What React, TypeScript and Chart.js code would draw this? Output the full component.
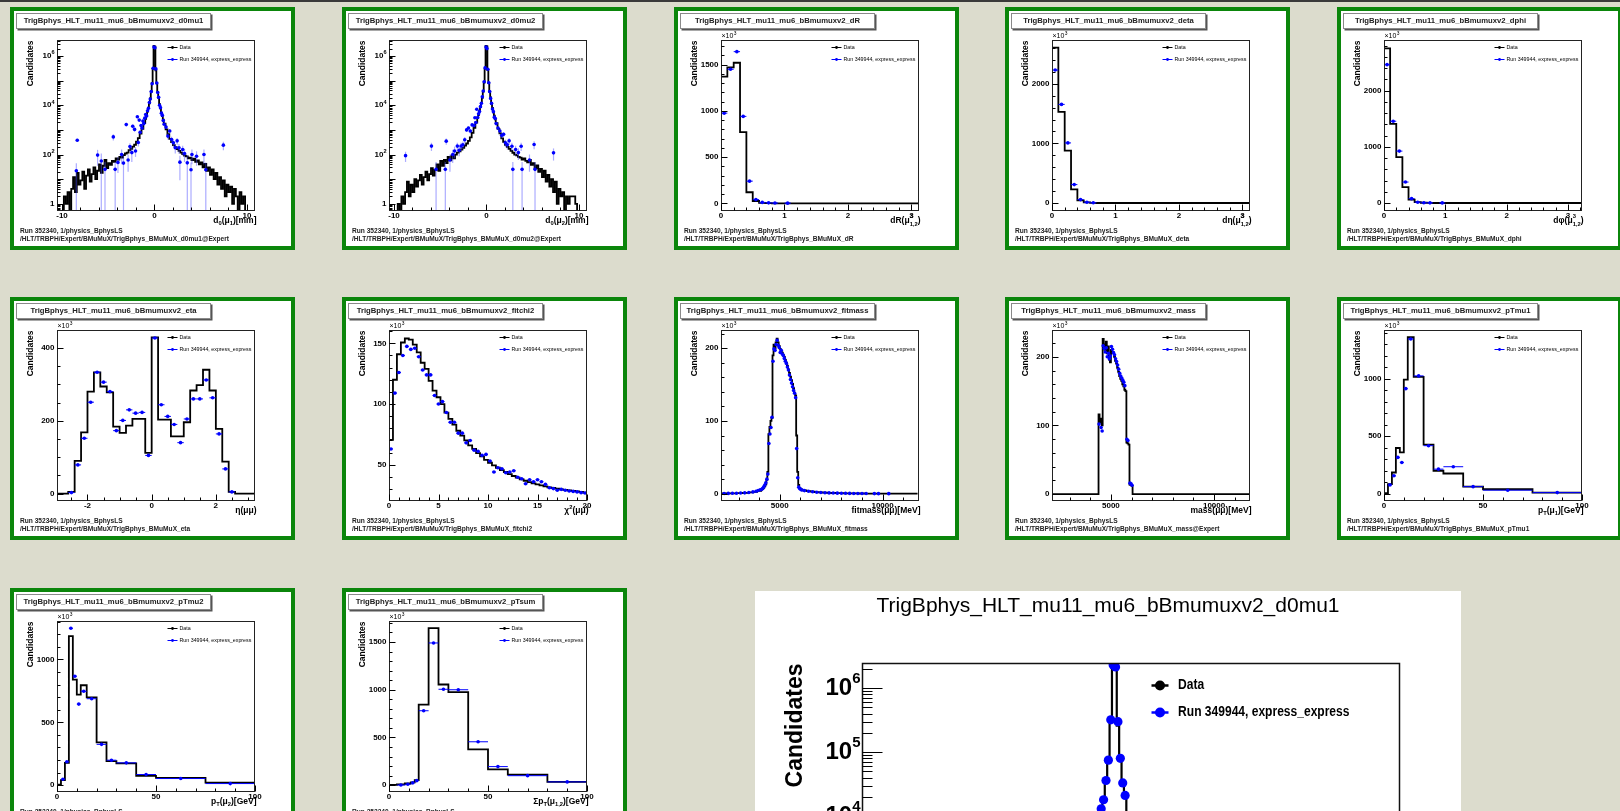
import React, { useEffect, useRef } from "react";
import { Chart, registerables } from "chart.js";

Chart.register(...registerables);

const FONT = '"Liberation Sans", Arial, Helvetica, sans-serif';
const PAGE_BG = "#dcdccd";
const PANEL_GREEN = "#0b860b";
const DOT_BLUE = "#0000ff";

// ---------------- texts ----------------
const TITLE_PREFIX = "TrigBphys_HLT_mu11_mu6_bBmumuxv2_";
const RUN_LINE = "Run 352340, 1/physics_BphysLS";
const PATH_PREFIX = "/HLT/TRBPH/Expert/BMuMuX/TrigBphys_BMuMuX_";
const LEGEND_LABELS = ["Data", "Run 349944, express_express"];
const Y_TITLE = "Candidates";

// ---------------- bin helpers (bin geometry only) ----------------
function uniformEdges(lo: number, hi: number, step: number): number[] {
  const n = Math.round((hi - lo) / step);
  const out: number[] = [];
  for (let i = 0; i <= n; i++) out.push(Math.round((lo + i * step) * 1e6) / 1e6);
  return out;
}
function binCenters(edges: number[]): number[] {
  const out: number[] = [];
  for (let i = 0; i < edges.length - 1; i++) out.push((edges[i] + edges[i + 1]) / 2);
  return out;
}

// ---------------- d0 (log) ----------------
const d0Edges = [
  ...uniformEdges(-10, -1, 0.2),
  ...uniformEdges(-1, 1, 0.1).slice(1),
  ...uniformEdges(1, 10, 0.2).slice(1),
];
const d0mu1LeftTail = [0, 2, 1, 3, 0, 4, 12, 3, 18, 6, 9, 20, 4, 14, 25, 8, 16, 30, 10, 22, 40, 18, 35, 60, 28, 45, 38, 55, 50, 70, 62, 80, 75, 95, 110, 120, 150, 170, 210, 250, 330, 460, 700, 1100, 1900];
const d0mu1Core = [2800, 3900, 5500, 8000, 12000, 19000, 35000, 80000, 300000, 2600000, 2400000, 260000, 78000, 34000, 20000, 11000, 7500, 5000, 3600, 2600];
const d0mu1RightTail = [1800, 1050, 680, 430, 320, 240, 200, 165, 140, 120, 105, 90, 85, 70, 75, 60, 68, 50, 58, 40, 48, 30, 42, 22, 30, 15, 25, 10, 18, 6, 12, 4, 9, 2, 6, 3, 5, 1, 4, 2, 0, 3, 1, 2, 0];
const d0mu1PtsX = [-8.45, -8.35, -6.15, -5.75, -5.35, -4.45, -4.25, -3.95, -3.55, -3.35, -3.05, -2.85, -2.65, -2.45, -2.35, -2.15, -2.05, -1.85, -1.75, -1.65, -1.55, -1.45, -1.35, -1.25, -1.15, -1.05, -0.95, -0.85, -0.75, -0.65, -0.55, -0.45, -0.35, -0.25, -0.15, -0.05, 0.05, 0.15, 0.25, 0.35, 0.45, 0.55, 0.65, 0.75, 0.85, 0.95, 1.05, 1.25, 1.45, 1.65, 1.85, 2.05, 2.25, 2.45, 2.65, 2.75, 3.05, 3.25, 3.55, 3.95, 4.05, 4.55, 5.35, 5.55, 7.45];
const d0mu1PtsY = [22, 380, 95, 55, 25, 520, 25, 48, 100, 45, 1650, 60, 210, 120, 1400, 1050, 140, 3400, 310, 2500, 800, 1500, 1200, 2300, 1800, 3000, 4200, 3700, 6000, 7500, 13000, 18000, 36000, 75000, 320000, 2300000, 2150000, 300000, 80000, 33000, 21000, 10000, 8000, 4800, 3900, 2400, 1700, 1300, 560, 900, 410, 300, 190, 360, 187, 49, 160, 110, 46, 24, 100, 85, 100, 24, 240];
const d0mu1PtsErr = [22, 60, 60, 55, 25, 150, 25, 30, 60, 45, 300, 40, 80, 70, 250, 200, 60, 400, 100, 300, 150, 250, 200, 300, 300, 300, 400, 400, 500, 500, 700, 800, 1000, 2000, 3000, 9000, 9000, 3000, 2000, 1000, 800, 600, 500, 400, 400, 300, 250, 220, 150, 180, 120, 100, 80, 110, 80, 40, 70, 60, 46, 24, 60, 50, 60, 24, 90];

const d0mu2LeftTail = [0, 0, 1, 0, 2, 1, 3, 8, 2, 6, 3, 10, 5, 9, 15, 6, 12, 20, 9, 16, 28, 14, 24, 40, 22, 55, 35, 60, 45, 80, 58, 90, 70, 100, 120, 135, 160, 185, 230, 280, 360, 500, 760, 1200, 2000];
const d0mu2Core = [3000, 4100, 5800, 8400, 12500, 20000, 36000, 84000, 310000, 2600000, 2450000, 270000, 80000, 35000, 21000, 11500, 7800, 5200, 3800, 2700];
const d0mu2RightTail = [1900, 1100, 720, 450, 330, 250, 205, 170, 140, 118, 100, 92, 80, 75, 62, 70, 55, 48, 60, 38, 45, 28, 36, 20, 26, 12, 22, 8, 15, 5, 10, 3, 8, 1, 4, 2, 3, 0, 2, 1, 2, 2, 2, 1, 0];
const d0mu2PtsX = [-8.75, -5.95, -5.45, -4.45, -4.35, -3.95, -3.65, -3.45, -3.15, -2.95, -2.75, -2.55, -2.35, -2.15, -1.95, -1.75, -1.55, -1.35, -1.25, -1.15, -1.05, -0.95, -0.85, -0.75, -0.65, -0.55, -0.45, -0.35, -0.25, -0.15, -0.05, 0.05, 0.15, 0.25, 0.35, 0.45, 0.55, 0.65, 0.75, 0.85, 0.95, 1.05, 1.25, 1.45, 1.65, 1.85, 2.05, 2.25, 2.45, 2.75, 2.85, 3.15, 3.45, 3.75, 3.85, 4.65, 5.15, 5.25, 7.25];
const d0mu2PtsY = [90, 220, 25, 25, 350, 60, 100, 140, 220, 150, 220, 250, 400, 1000, 1200, 900, 1600, 1500, 3100, 2000, 6900, 3200, 4500, 5600, 8800, 12000, 22000, 38000, 90000, 330000, 2300000, 2000000, 290000, 82000, 36000, 19000, 12000, 7000, 5500, 3300, 2900, 1800, 1200, 900, 600, 660, 300, 250, 360, 218, 25, 160, 120, 218, 25, 60, 255, 25, 117];
const d0mu2PtsErr = [40, 80, 25, 25, 100, 40, 55, 70, 80, 65, 80, 85, 110, 180, 200, 180, 240, 230, 320, 250, 500, 300, 400, 450, 550, 650, 900, 1200, 2000, 3000, 9000, 9000, 3000, 2000, 1200, 800, 650, 500, 450, 350, 320, 250, 200, 180, 150, 150, 100, 90, 110, 80, 25, 70, 60, 80, 25, 40, 90, 25, 60];

// ---------------- angular (x10^3) ----------------
const dREdges = uniformEdges(0, 3.2, 0.1);
const dRValues = [1370, 1470, 1520, 770, 120, 25, 5, 1.5, 0.5, 0.3, 0.2, 0.1, 0, 0, 0, 0, 0, 0, 0, 0, 0, 0, 0, 0, 0, 0, 0, 0, 0, 0, 0, 0];
const dRPtsX = [0.05, 0.15, 0.25, 0.35, 0.45, 0.55, 0.65, 0.75, 0.85, 1.05];
const dRPtsY = [975, 1450, 1640, 940, 240, 40, 10, 5, 3, 2];

const detaEdges = uniformEdges(0, 3.2, 0.1);
const detaValues = [2605, 1530, 877, 230, 45, 10, 2, 0.5, 0.2, 0, 0, 0, 0, 0, 0, 0, 0, 0, 0, 0, 0, 0, 0, 0, 0, 0, 0, 0, 0, 0, 0, 0];
const detaPtsX = [0.05, 0.15, 0.25, 0.35, 0.45, 0.55, 0.65];
const detaPtsY = [2230, 1654, 1008, 309, 57, 12, 5];

const dphiEdges = uniformEdges(0, 3.3, 0.1);
const dphiValues = [2753, 1410, 817, 284, 60, 15, 5, 1, 0.5, 0, 0, 0, 0, 0, 0, 0, 0, 0, 0, 0, 0, 0, 0, 0, 0, 0, 0, 0, 0, 0, 0, 0, 0];
const dphiPtsX = [0.05, 0.15, 0.25, 0.35, 0.45, 0.55, 0.65, 0.75, 0.95];
const dphiPtsY = [2463, 1456, 924, 373, 78, 15, 5, 3, 2];

// ---------------- eta ----------------
const etaEdges = uniformEdges(-3.0, 3.2, 0.2);
const etaValues = [0, 0, 5, 90, 168, 280, 333, 294, 278, 184, 167, 187, 205, 205, 112, 429, 203, 203, 157, 157, 196, 283, 298, 340, 283, 178, 88, 5, 0, 0, 0];
const etaPtsX = binCenters(etaEdges).slice(2, 28);
const etaPtsY = [3, 79, 152, 251, 333, 306, 280, 173, 201, 230, 221, 223, 105, 427, 244, 212, 190, 140, 205, 260, 260, 312, 263, 164, 68, 5];

// ---------------- fitchi2 ----------------
const chi2Edges = uniformEdges(0, 20, 0.4);
const chi2Values = [70.5, 120, 141, 150.7, 154, 153, 149, 142.5, 134, 129, 119, 111, 105.6, 100, 93, 87.8, 83, 78, 74, 70, 65.9, 63, 59.6, 56.8, 54, 51.6, 49.4, 47.5, 45.6, 44, 42.3, 40.7, 39.3, 37.9, 36.8, 35.7, 34.6, 33.8, 33, 32.2, 31.3, 30.8, 30.3, 29.7, 29.2, 28.9, 28.4, 28.1, 27.6, 27];
const chi2PtsX = binCenters(chi2Edges);
const chi2PtsY = [63, 109, 126, 140, 147.5, 145, 146, 139, 128, 124, 124, 107, 100, 102, 93, 85, 85, 76, 76, 68, 70, 62, 61, 57.7, 58.5, 53, 44, 47.5, 46.6, 43.4, 44, 45, 39.7, 38.4, 34.3, 37.6, 36, 37.6, 36, 33.8, 31, 30.3, 29, 29.7, 29, 28.4, 28, 27.6, 27, 26.7];

// ---------------- fitmass ----------------
const fitmassEdges = [
  ...uniformEdges(2100, 4100, 200),
  ...uniformEdges(4100, 6100, 50).slice(1),
  ...uniformEdges(6100, 11700, 200).slice(1),
];
const fitmassLow = [0.3, 0.4, 0.5, 0.6, 0.8, 1.0, 1.3, 1.8, 2.6, 3.8];
const fitmassPeak = [5.5, 6.5, 8, 10, 13, 19, 30, 82, 92, 100, 104, 190, 205, 200, 208, 213, 208, 203, 199, 196, 194, 191, 188, 184, 180, 176, 171, 166, 161, 156, 151, 145, 139, 135, 80, 30, 12, 8, 6.5, 5.5];
const fitmassHigh = [4.5, 3.5, 2.8, 2.2, 1.8, 1.5, 1.2, 1.0, 0.8, 0.7, 0.6, 0.5, 0.4, 0.35, 0.3, 0.25, 0.2, 0.15, 0.12, 0.1, 0.08, 0.06, 0.05, 0.04, 0.03, 0.02, 0.01, 0.005];
const fitmassPtsX = [2300, 2500, 2700, 2900, 3100, 3300, 3500, 3700, 3850, 3950, 4050, 4125, 4175, 4225, 4275, 4325, 4375, 4425, 4475, 4525, 4575, 4625, 4675, 4725, 4775, 4825, 4875, 4925, 4975, 5025, 5075, 5125, 5175, 5225, 5275, 5325, 5375, 5425, 5475, 5525, 5575, 5625, 5675, 5725, 5775, 5825, 5875, 5925, 5975, 6025, 6075, 6200, 6400, 6600, 6800, 7000, 7200, 7400, 7600, 7800, 8000, 8200, 8400, 8600, 8800, 9000, 9200, 9600, 9800, 10300];
const fitmassPtsY = [0.3, 0.45, 0.55, 0.7, 0.9, 1.2, 1.7, 2.5, 3.5, 4.5, 5.5, 6, 7.5, 9.5, 12, 15, 20, 27, 69, 82, 91, 105, 182, 199, 197, 205, 211, 204, 201, 194, 197, 192, 190, 186, 182, 179, 174, 170, 163, 157, 152, 147, 142, 138, 132, 62, 22, 9, 7, 6, 5.2, 4.3, 3.3, 2.7, 2.1, 1.7, 1.4, 1.1, 0.9, 0.8, 0.65, 0.55, 0.45, 0.4, 0.32, 0.28, 0.22, 0.15, 0.13, 0.07];

// ---------------- mass ----------------
const massEdges = [2100, ...uniformEdges(4400, 6050, 50), 11750];
const massPeak = [116, 104, 110, 100, 226, 218, 210, 222, 205, 215, 196, 192, 210, 205, 206, 200, 194, 190, 184, 178, 172, 168, 165, 160, 157, 152, 150, 75, 74, 72, 14, 13, 12];
const massPtsX = [4425, 4525, 4575, 4625, 4675, 4725, 4775, 4825, 4875, 4925, 4975, 5025, 5075, 5125, 5175, 5225, 5275, 5325, 5375, 5425, 5475, 5525, 5575, 5625, 5675, 5775, 5825, 5925, 5975, 6025];
const massPtsY = [102, 97, 92, 216, 212, 207, 213, 200, 205, 197, 201, 215, 211, 206, 203, 197, 193, 188, 182, 176, 172, 169, 166, 163, 158, 80, 78, 16, 15, 13];

// ---------------- pT ----------------
const ptEdges = [0, 2, 4, 6, 8, 10, 12, 15, 20, 25, 30, 40, 50, 75, 100];
const ptPtsX = [3, 5, 7, 9, 11, 13.5, 17.5, 22.5, 27.5, 35, 45, 62.5, 87.5];
const ptPtsXErr = [1, 1, 1, 1, 1, 1.5, 2.5, 2.5, 2.5, 5, 5, 12.5, 12.5];
const pTmu1Values = [5, 82, 184, 397, 359, 992, 1360, 1015, 426, 199, 175, 61, 38, 9];
const pTmu1PtsY = [76, 155, 315, 271, 913, 1345, 1024, 417, 213, 234, 61, 30, 9];
const pTmu2Values = [5, 40, 178, 1186, 840, 720, 795, 698, 341, 192, 173, 74, 58, 21];
const pTmu2PtsY = [47, 186, 1248, 867, 645, 747, 688, 325, 199, 178, 85, 53, 13];
const pTsumEdges = [0, 4, 8, 11, 13, 15, 20, 25, 30, 40, 50, 60, 80, 100];
const pTsumValues = [3, 8, 18, 30, 54, 845, 1645, 1055, 975, 375, 165, 110, 35];
const pTsumPtsX = [6, 9.5, 12, 14, 17.5, 22.5, 27.5, 35, 45, 55, 70, 90];
const pTsumPtsXErr = [2, 1.5, 1, 1, 2.5, 2.5, 2.5, 5, 5, 5, 10, 10];
const pTsumPtsY = [2, 10, 25, 48, 780, 1490, 1005, 1000, 455, 195, 100, 35];

// ---------------- axis titles (segments: 0 normal, 1 sub, 2 sup, 3 sup|sub stacked) ----------------
type Seg = [string, number?];
const T_D0MU1: Seg[] = [["d"], ["0", 1], ["(\u03bc"], ["1", 1], [")[mm]"]];
const T_D0MU2: Seg[] = [["d"], ["0", 1], ["(\u03bc"], ["2", 1], [")[mm]"]];
const T_DR: Seg[] = [["dR(\u03bc"], ["3|1,2", 3], [")"]];
const T_DETA: Seg[] = [["d\u03b7(\u03bc"], ["3|1,2", 3], [")"]];
const T_DPHI: Seg[] = [["d\u03c6(\u03bc"], ["3|1,2", 3], [")"]];
const T_ETA: Seg[] = [["\u03b7(\u03bc\u03bc)"]];
const T_CHI2: Seg[] = [["\u03c7"], ["2", 2], ["(\u03bc\u03bc)"]];
const T_FITMASS: Seg[] = [["fitmass(\u03bc\u03bc)[MeV]"]];
const T_MASS: Seg[] = [["mass(\u03bc\u03bc)[MeV]"]];
const T_PTMU1: Seg[] = [["p"], ["T", 1], ["(\u03bc"], ["1", 1], [")[GeV]"]];
const T_PTMU2: Seg[] = [["p"], ["T", 1], ["(\u03bc"], ["2", 1], [")[GeV]"]];
const T_PTSUM: Seg[] = [["\u03a3p"], ["T", 1], ["(\u03bc"], ["1,2", 1], [")[GeV]"]];

interface Cfg {
  key: string; footer: string; col: number; row: number;
  edges: number[]; values: number[];
  px: number[]; py: number[]; pxe?: number[]; pye?: number[];
  xMin: number; xMax: number; yMin: number; yMax: number; log: boolean;
  xLabels: number[]; xMajor: number; xMinor: number;
  yLabels: number[]; yMajor: number; yMinor: number;
  times: boolean; xTitle: Seg[];
}

const fill = (n: number, v: number) => new Array(n).fill(v);

const D0X = { xMin: -10.54, xMax: 10.87, xLabels: [-10, 0, 10], xMajor: 10, xMinor: 2 };
const ANG_X = { xLabels: [0, 1, 2, 3], xMajor: 1, xMinor: 0.2 };
const MASS_X = { xLabels: [5000, 10000], xMajor: 5000, xMinor: 1000 };
const PT_X = { xMin: 0, xMax: 100, xLabels: [0, 50, 100], xMajor: 50, xMinor: 10 };

const PANELS: Cfg[] = [
  { key: "d0mu1", footer: "d0mu1@Expert", col: 0, row: 0, edges: d0Edges, values: [...d0mu1LeftTail, ...d0mu1Core, ...d0mu1RightTail],
    px: d0mu1PtsX, py: d0mu1PtsY, pye: d0mu1PtsErr, ...D0X, yMin: 0.51, yMax: 4.47e6, log: true,
    yLabels: [1, 1e2, 1e4, 1e6], yMajor: 1, yMinor: 1, times: false, xTitle: T_D0MU1 },
  { key: "d0mu2", footer: "d0mu2@Expert", col: 1, row: 0, edges: d0Edges, values: [...d0mu2LeftTail, ...d0mu2Core, ...d0mu2RightTail],
    px: d0mu2PtsX, py: d0mu2PtsY, pye: d0mu2PtsErr, ...D0X, yMin: 0.51, yMax: 4.47e6, log: true,
    yLabels: [1, 1e2, 1e4, 1e6], yMajor: 1, yMinor: 1, times: false, xTitle: T_D0MU2 },
  { key: "dR", footer: "dR", col: 2, row: 0, edges: dREdges, values: dRValues, px: dRPtsX, py: dRPtsY, pxe: fill(10, 0.05),
    xMin: 0, xMax: 3.12, ...ANG_X, yMin: -83, yMax: 1766, log: false, yLabels: [0, 500, 1000, 1500], yMajor: 500, yMinor: 100, times: true, xTitle: T_DR },
  { key: "deta", footer: "deta", col: 3, row: 0, edges: detaEdges, values: detaValues, px: detaPtsX, py: detaPtsY, pxe: fill(7, 0.05),
    xMin: 0, xMax: 3.12, ...ANG_X, yMin: -134, yMax: 2734, log: false, yLabels: [0, 1000, 2000], yMajor: 1000, yMinor: 200, times: true, xTitle: T_DETA },
  { key: "dphi", footer: "dphi", col: 4, row: 0, edges: dphiEdges, values: dphiValues, px: dphiPtsX, py: dphiPtsY, pxe: fill(9, 0.05),
    xMin: 0, xMax: 3.23, ...ANG_X, yMin: -142, yMax: 2902, log: false, yLabels: [0, 1000, 2000], yMajor: 1000, yMinor: 200, times: true, xTitle: T_DPHI },
  { key: "eta", footer: "eta", col: 0, row: 1, edges: etaEdges, values: etaValues, px: etaPtsX, py: etaPtsY, pxe: fill(26, 0.1),
    xMin: -2.95, xMax: 3.22, xLabels: [-2, 0, 2], xMajor: 2, xMinor: 0.5, yMin: -20, yMax: 449, log: false, yLabels: [0, 200, 400], yMajor: 200, yMinor: 50, times: true, xTitle: T_ETA },
  { key: "fitchi2", footer: "fitchi2", col: 1, row: 1, edges: chi2Edges, values: chi2Values, px: chi2PtsX, py: chi2PtsY, pxe: fill(50, 0.2),
    xMin: 0, xMax: 20, xLabels: [0, 5, 10, 15, 20], xMajor: 5, xMinor: 1, yMin: 20.1, yMax: 161, log: false, yLabels: [50, 100, 150], yMajor: 50, yMinor: 10, times: true, xTitle: T_CHI2 },
  { key: "fitmass", footer: "fitmass", col: 2, row: 1, edges: fitmassEdges, values: [...fitmassLow, ...fitmassPeak, ...fitmassHigh], px: fitmassPtsX, py: fitmassPtsY,
    xMin: 2147, xMax: 11770, ...MASS_X, yMin: -10, yMax: 225, log: false, yLabels: [0, 100, 200], yMajor: 100, yMinor: 20, times: true, xTitle: T_FITMASS },
  { key: "mass", footer: "mass@Expert", col: 3, row: 1, edges: massEdges, values: [0, ...massPeak, 0], px: massPtsX, py: massPtsY,
    xMin: 2144, xMax: 11742, ...MASS_X, yMin: -10, yMax: 239, log: false, yLabels: [0, 100, 200], yMajor: 100, yMinor: 20, times: true, xTitle: T_MASS },
  { key: "pTmu1", footer: "pTmu1", col: 4, row: 1, edges: ptEdges, values: pTmu1Values, px: ptPtsX, py: pTmu1PtsY, pxe: ptPtsXErr,
    ...PT_X, yMin: -64, yMax: 1423, log: false, yLabels: [0, 500, 1000], yMajor: 500, yMinor: 100, times: true, xTitle: T_PTMU1 },
  { key: "pTmu2", footer: "pTmu2", col: 0, row: 2, edges: ptEdges, values: pTmu2Values, px: ptPtsX, py: pTmu2PtsY, pxe: ptPtsXErr,
    ...PT_X, yMin: -54, yMax: 1306, log: false, yLabels: [0, 500, 1000], yMajor: 500, yMinor: 100, times: true, xTitle: T_PTMU2 },
  { key: "pTsum", footer: "pTsum", col: 1, row: 2, edges: pTsumEdges, values: pTsumValues, px: pTsumPtsX, py: pTsumPtsY, pxe: pTsumPtsXErr,
    ...PT_X, yMin: -71, yMax: 1720, log: false, yLabels: [0, 500, 1000, 1500], yMajor: 500, yMinor: 100, times: true, xTitle: T_PTSUM },
];

const BIG_CFG: Cfg = { ...PANELS[0], xMin: -10.54, xMax: 11.93, yMin: 0.5, yMax: 2.48e6, yLabels: [1, 10, 1e2, 1e3, 1e4, 1e5, 1e6] };

const COL_X = [10, 342, 674, 1005, 1337];
const ROW_Y = [7, 297, 588];

// ---------------- styles ----------------
const SMALL = {
  w: 277, h: 235,
  pad: { left: 43, top: 29, right: 36, bottom: 35 },
  lineW: 1.8, dotR: 1.8,
  xErrColor: "#0000ff", xErrW: 1, yErrColor: "rgba(70,70,255,0.45)", yErrW: 1.2,
  frameColor: "#222", frameW: 1, majLen: 6, minLen: 3,
  tickPx: 8, supPx: 5.6, supRise: 3.2, yLabelGap: 3, xLabelDy: 5.5,
  titlePx: 8.5, xTitleDy: 10.5, xTitleDxR: 2, yTitleDx: 26.5,
  timesPx: 7, timesDy: 4,
  legendPx: 5.3, legendBold: false, legendScale: 1,
  lgX0: 110, lgX1: 120, lgTx: 122, lgY1: 7, lgY2: 19, lgDotR: 1.4, lgLineW: 1,
};
const BIG = {
  w: 706, h: 560,
  pad: { left: 107, top: 72, right: 61, bottom: 60 },
  lineW: 2.2, dotR: 4.6,
  xErrColor: "#0000ff", xErrW: 1.5, yErrColor: "rgba(70,70,255,0.45)", yErrW: 2,
  frameColor: "#111", frameW: 1.5, majLen: 20, minLen: 10,
  tickPx: 24, supPx: 15, supRise: 9, yLabelGap: 2, xLabelDy: 16,
  titlePx: 23, xTitleDy: 40, xTitleDxR: 0, yTitleDx: 67,
  timesPx: 16, timesDy: 8,
  legendPx: 14, legendBold: true, legendScale: 0.86,
  lgX0: 289, lgX1: 306, lgTx: 315.6, lgY1: 22, lgY2: 49, lgDotR: 5, lgLineW: 2.5,
};

const fnt = (px: number, bold: boolean) => `${bold ? "bold " : ""}${px}px ${FONT}`;

function richWidth(ctx: any, segs: Seg[], px: number, bold: boolean) {
  const big = fnt(px, bold), sm = fnt(+(px * 0.68).toFixed(2), bold);
  let w = 0;
  for (const [t, k] of segs) {
    if (!k) { ctx.font = big; w += ctx.measureText(t).width; }
    else if (k === 3) { const [a, b] = t.split("|"); ctx.font = sm; w += Math.max(ctx.measureText(a).width, ctx.measureText(b).width); }
    else { ctx.font = sm; w += ctx.measureText(t).width; }
  }
  return w;
}
function drawRich(ctx: any, segs: Seg[], x0: number, y: number, px: number, bold: boolean) {
  const big = fnt(px, bold), sm = fnt(+(px * 0.68).toFixed(2), bold);
  let x = x0;
  ctx.textAlign = "left"; ctx.textBaseline = "middle";
  for (const [t, k] of segs) {
    if (!k) { ctx.font = big; ctx.fillText(t, x, y); x += ctx.measureText(t).width; }
    else if (k === 1) { ctx.font = sm; ctx.fillText(t, x, y + px * 0.32); x += ctx.measureText(t).width; }
    else if (k === 2) { ctx.font = sm; ctx.fillText(t, x, y - px * 0.4); x += ctx.measureText(t).width; }
    else {
      const [a, b] = t.split("|"); ctx.font = sm;
      ctx.fillText(a, x, y - px * 0.5); ctx.fillText(b, x, y + px * 0.38);
      x += Math.max(ctx.measureText(a).width, ctx.measureText(b).width);
    }
  }
}

function tickValues(min: number, max: number, step: number) {
  const out: number[] = [];
  const start = Math.ceil(min / step - 1e-9);
  for (let i = start; i * step <= max + 1e-9; i++) out.push(Math.round(i * step * 1e6) / 1e6);
  return out;
}
const isMult = (v: number, s: number) => Math.abs(v / s - Math.round(v / s)) < 1e-6;

function makePlugin(cfg: Cfg, st: any) {
  return {
    id: "rootFrame",
    beforeDatasetDraw(chart: any, args: any) {
      if (args.index !== 1) return;
      const { ctx, chartArea: a } = chart;
      const xs = chart.scales.x, ys = chart.scales.y;
      ctx.save();
      ctx.beginPath(); ctx.rect(a.left, a.top, a.right - a.left, a.bottom - a.top); ctx.clip();
      for (let i = 0; i < cfg.px.length; i++) {
        const cx = xs.getPixelForValue(cfg.px[i]);
        const cy = ys.getPixelForValue(cfg.py[i]);
        const xe = cfg.pxe ? cfg.pxe[i] : 0;
        if (xe) {
          ctx.strokeStyle = st.xErrColor; ctx.lineWidth = st.xErrW;
          ctx.beginPath();
          ctx.moveTo(xs.getPixelForValue(cfg.px[i] - xe), cy);
          ctx.lineTo(xs.getPixelForValue(cfg.px[i] + xe), cy);
          ctx.stroke();
        }
        const ye = cfg.pye ? cfg.pye[i] : 0;
        if (ye) {
          const lo = cfg.py[i] - ye;
          const y0 = lo > 0 ? ys.getPixelForValue(lo) : a.bottom;
          const y1 = ys.getPixelForValue(cfg.py[i] + ye);
          ctx.strokeStyle = st.yErrColor; ctx.lineWidth = st.yErrW;
          ctx.beginPath(); ctx.moveTo(cx, y0); ctx.lineTo(cx, y1); ctx.stroke();
        }
      }
      ctx.restore();
    },
    afterDraw(chart: any) {
      const { ctx, chartArea: a } = chart;
      const xs = chart.scales.x, ys = chart.scales.y;
      const L = Math.round(a.left) + 0.5, R = Math.round(a.right) - 0.5;
      const T = Math.round(a.top) + 0.5, B = Math.round(a.bottom) - 0.5;
      ctx.save();
      ctx.strokeStyle = st.frameColor; ctx.lineWidth = st.frameW;
      ctx.strokeRect(L, T, R - L, B - T);
      ctx.lineWidth = 1; ctx.strokeStyle = "#000";
      ctx.beginPath();
      for (const v of tickValues(cfg.xMin, cfg.xMax, cfg.xMinor)) {
        const p = Math.round(xs.getPixelForValue(v)) + 0.5;
        const len = isMult(v, cfg.xMajor) ? st.majLen : st.minLen;
        ctx.moveTo(p, B); ctx.lineTo(p, B - len);
      }
      if (cfg.log) {
        const d0 = Math.floor(Math.log10(cfg.yMin)), d1 = Math.ceil(Math.log10(cfg.yMax));
        for (let d = d0; d <= d1; d++) {
          for (let k = 1; k <= 9; k++) {
            const v = k * Math.pow(10, d);
            if (v < cfg.yMin || v > cfg.yMax) continue;
            const p = Math.round(ys.getPixelForValue(v)) + 0.5;
            ctx.moveTo(L, p); ctx.lineTo(L + (k === 1 ? st.majLen : st.minLen), p);
          }
        }
      } else {
        for (const v of tickValues(cfg.yMin, cfg.yMax, cfg.yMinor)) {
          const p = Math.round(ys.getPixelForValue(v)) + 0.5;
          const len = isMult(v, cfg.yMajor) ? st.majLen : st.minLen;
          ctx.moveTo(L, p); ctx.lineTo(L + len, p);
        }
      }
      ctx.stroke();

      ctx.fillStyle = "#000";
      ctx.textBaseline = "middle";
      ctx.font = fnt(st.tickPx, true);
      ctx.textAlign = "center";
      for (const v of cfg.xLabels) ctx.fillText(String(v), xs.getPixelForValue(v), B + st.xLabelDy);
      for (const v of cfg.yLabels) {
        const p = ys.getPixelForValue(v);
        const xr = L - st.yLabelGap;
        if (cfg.log && v !== 1) {
          const e = String(Math.round(Math.log10(v)));
          ctx.font = fnt(st.supPx, true); ctx.textAlign = "right";
          const ew = ctx.measureText(e).width;
          ctx.fillText(e, xr, p - st.supRise);
          ctx.font = fnt(st.tickPx, true);
          ctx.fillText("10", xr - ew, p);
        } else {
          ctx.font = fnt(st.tickPx, true); ctx.textAlign = "right";
          ctx.fillText(String(v), xr, p);
        }
      }
      if (cfg.times) {
        ctx.textAlign = "left";
        ctx.font = fnt(st.timesPx, false);
        ctx.fillText("\u00d710", L, T - st.timesDy);
        const w = ctx.measureText("\u00d710").width;
        ctx.font = fnt(+(st.timesPx * 0.7).toFixed(2), false);
        ctx.fillText("3", L + w + 0.5, T - st.timesDy - st.timesPx * 0.4);
      }
      const tw = richWidth(ctx, cfg.xTitle, st.titlePx, true);
      drawRich(ctx, cfg.xTitle, R + st.xTitleDxR - tw, B + st.xTitleDy, st.titlePx, true);
      ctx.save();
      ctx.translate(L - st.yTitleDx, T);
      ctx.rotate(-Math.PI / 2);
      ctx.font = fnt(st.titlePx, true);
      ctx.textAlign = "right"; ctx.textBaseline = "middle";
      ctx.fillText(Y_TITLE, 0, 0);
      ctx.restore();
      const cols = ["#000", DOT_BLUE];
      const lys = [T + st.lgY1, T + st.lgY2];
      for (let i = 0; i < 2; i++) {
        const y = lys[i];
        ctx.strokeStyle = cols[i]; ctx.lineWidth = st.lgLineW;
        ctx.beginPath(); ctx.moveTo(L + st.lgX0, y); ctx.lineTo(L + st.lgX1, y); ctx.stroke();
        ctx.fillStyle = cols[i];
        ctx.beginPath(); ctx.arc(L + (st.lgX0 + st.lgX1) / 2, y, st.lgDotR, 0, Math.PI * 2); ctx.fill();
        ctx.fillStyle = "#000";
        ctx.save();
        ctx.translate(L + st.lgTx, y);
        ctx.scale(st.legendScale, 1);
        ctx.font = fnt(st.legendPx, st.legendBold);
        ctx.textAlign = "left"; ctx.textBaseline = "middle";
        ctx.fillText(LEGEND_LABELS[i], 0, 0);
        ctx.restore();
      }
      ctx.restore();
    },
  };
}

function buildChart(canvas: HTMLCanvasElement, cfg: Cfg, st: any) {
  const lv = (v: number) => (cfg.log && v <= 0 ? 1e-3 : v);
  const n = cfg.values.length;
  const line: { x: number; y: number }[] = [];
  for (let i = 0; i < n; i++) line.push({ x: cfg.edges[i], y: lv(cfg.values[i]) });
  line.push({ x: cfg.edges[n], y: lv(cfg.values[n - 1]) });
  const dots = cfg.px.map((x, i) => ({ x, y: cfg.py[i] }));
  return new Chart(canvas, {
    type: "line",
    data: {
      datasets: [
        { data: line, borderColor: "#000", borderWidth: st.lineW, pointRadius: 0, stepped: "before", fill: false, tension: 0, order: 2 } as any,
        { data: dots, showLine: false, pointRadius: st.dotR, pointBackgroundColor: DOT_BLUE, pointBorderColor: DOT_BLUE, pointBorderWidth: 0, order: 1 } as any,
      ],
    },
    options: {
      animation: false,
      responsive: false,
      maintainAspectRatio: false,
      devicePixelRatio: 1,
      events: [],
      layout: { padding: st.pad },
      scales: {
        x: { type: "linear", min: cfg.xMin, max: cfg.xMax, display: false, bounds: "data" },
        y: { type: cfg.log ? "logarithmic" : "linear", min: cfg.yMin, max: cfg.yMax, display: false, bounds: "data" },
      } as any,
      plugins: { legend: { display: false }, tooltip: { enabled: false }, title: { display: false } },
    },
    plugins: [makePlugin(cfg, st) as any],
  });
}

function SmallPanel({ cfg }: { cfg: Cfg }) {
  const ref = useRef<HTMLCanvasElement>(null);
  useEffect(() => {
    const ch = buildChart(ref.current!, cfg, SMALL);
    return () => ch.destroy();
  }, []);
  return (
    <div style={{ position: "absolute", left: COL_X[cfg.col], top: ROW_Y[cfg.row], width: 285, height: 243, boxSizing: "border-box", border: `4px solid ${PANEL_GREEN}`, background: "#fff" }}>
      <canvas ref={ref} width={SMALL.w} height={SMALL.h} style={{ position: "absolute", left: 0, top: 0, width: SMALL.w, height: SMALL.h }} />
      <div style={{ position: "absolute", left: 2, top: 2, width: 195, height: 16, boxSizing: "border-box", border: "1px solid #8a8a8a", boxShadow: "1.5px 1.5px 0 #555", background: "#fff", font: `bold 7.7px ${FONT}`, lineHeight: "14px", textAlign: "center", whiteSpace: "nowrap", color: "#222" }}>
        {TITLE_PREFIX + cfg.key}
      </div>
      <div style={{ position: "absolute", left: 6, top: 216, font: `bold 6.6px ${FONT}`, lineHeight: "8px", whiteSpace: "nowrap", color: "#222" }}>{RUN_LINE}</div>
      <div style={{ position: "absolute", left: 6, top: 224, font: `bold 6.6px ${FONT}`, lineHeight: "8px", whiteSpace: "nowrap", color: "#222" }}>{PATH_PREFIX + cfg.footer}</div>
    </div>
  );
}

function BigPanel() {
  const ref = useRef<HTMLCanvasElement>(null);
  useEffect(() => {
    const ch = buildChart(ref.current!, BIG_CFG, BIG);
    return () => ch.destroy();
  }, []);
  return (
    <div style={{ position: "absolute", left: 755, top: 591, width: BIG.w, height: BIG.h, background: "#fff" }}>
      <canvas ref={ref} width={BIG.w} height={BIG.h} style={{ position: "absolute", left: 0, top: 0, width: BIG.w, height: BIG.h }} />
      <div style={{ position: "absolute", left: 0, top: 2, width: BIG.w, textAlign: "center", font: `21px ${FONT}`, lineHeight: "24px", color: "#000", whiteSpace: "nowrap" }}>
        {TITLE_PREFIX + BIG_CFG.key}
      </div>
    </div>
  );
}

export default function App() {
  return (
    <div style={{ position: "absolute", left: 0, top: 0, width: 1620, height: 811, overflow: "hidden", background: PAGE_BG }}>
      <div style={{ position: "absolute", left: 0, top: 0, width: 1620, height: 2, background: "#3a3a3a" }} />
      {PANELS.map((p) => <SmallPanel key={p.key} cfg={p} />)}
      <BigPanel />
    </div>
  );
}
